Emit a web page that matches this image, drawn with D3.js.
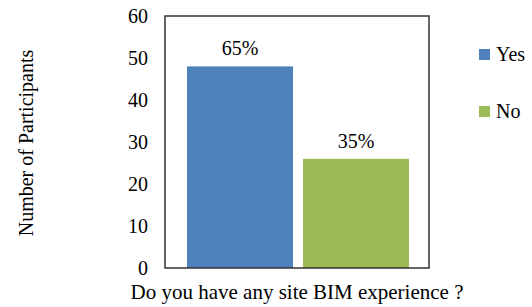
<!DOCTYPE html>
<html>
<head>
<meta charset="utf-8">
<script src="https://cdn.jsdelivr.net/npm/d3@7"></script>
<style>
  body { margin: 0; background: #fff; }
  text { font-family: "Liberation Serif", "Times New Roman", serif; fill: #000; }
</style>
</head>
<body>
<svg id="chart" width="532" height="307"></svg>
<script>
const series = ['Yes', 'No'];
const values = [48, 26];
const percentLabels = ['65%', '35%'];
const colors = ['#4F81BD', '#9BBB59'];
const yTicks = [0, 10, 20, 30, 40, 50, 60];
const xTitle = 'Do you have any site BIM experience ?';
const yTitle = 'Number of Participants';

const svg = d3.select('#chart');
const plot = { left: 165, right: 429, top: 16, bottom: 268 };

const y = d3.scaleLinear().domain([0, 60]).range([plot.bottom, plot.top]);
const x = d3.scaleBand()
    .domain(series)
    .range([plot.left + 22, plot.right - 20])
    .paddingInner(0.086);

// bars
svg.append('g')
    .selectAll('rect')
    .data(series)
    .enter()
    .append('rect')
    .attr('x', d => x(d))
    .attr('width', x.bandwidth())
    .attr('y', (d, i) => y(values[i]))
    .attr('height', (d, i) => y(0) - y(values[i]))
    .attr('fill', (d, i) => colors[i]);

// value labels
svg.append('g')
    .selectAll('text')
    .data(series)
    .enter()
    .append('text')
    .attr('x', d => x(d) + x.bandwidth() / 2)
    .attr('y', (d, i) => y(values[i]) - 11)
    .attr('text-anchor', 'middle')
    .style('font-size', '20px')
    .text((d, i) => percentLabels[i]);

// frame
svg.append('rect')
    .attr('x', plot.left)
    .attr('y', plot.top)
    .attr('width', plot.right - plot.left)
    .attr('height', plot.bottom - plot.top)
    .attr('fill', 'none')
    .attr('stroke', '#333')
    .attr('stroke-width', 1.5);

// y axis, labels only
const yAxis = d3.axisLeft(y).tickValues(yTicks).tickSize(0).tickPadding(17);
svg.append('g')
    .attr('transform', `translate(${plot.left},0)`)
    .call(yAxis)
    .call(g => g.select('.domain').remove())
    .selectAll('text')
    .style('font-family', '"Liberation Serif", serif')
    .style('font-size', '20px')
    .attr('fill', '#000');

// axis titles
svg.append('text')
    .attr('x', (plot.left + plot.right) / 2)
    .attr('y', 299)
    .attr('text-anchor', 'middle')
    .style('font-size', '21px')
    .text(xTitle);

svg.append('text')
    .attr('transform', 'translate(33,143) rotate(-90)')
    .attr('text-anchor', 'middle')
    .style('font-size', '20px')
    .text(yTitle);

// legend
const legend = svg.append('g')
    .selectAll('g')
    .data(series)
    .enter()
    .append('g')
    .attr('transform', (d, i) => `translate(479,${49 + i * 57})`);

legend.append('rect')
    .attr('width', 11)
    .attr('height', 11)
    .attr('fill', (d, i) => colors[i]);

legend.append('text')
    .attr('x', 17)
    .attr('y', 12)
    .style('font-size', '20px')
    .text(d => d);
</script>
</body>
</html>
